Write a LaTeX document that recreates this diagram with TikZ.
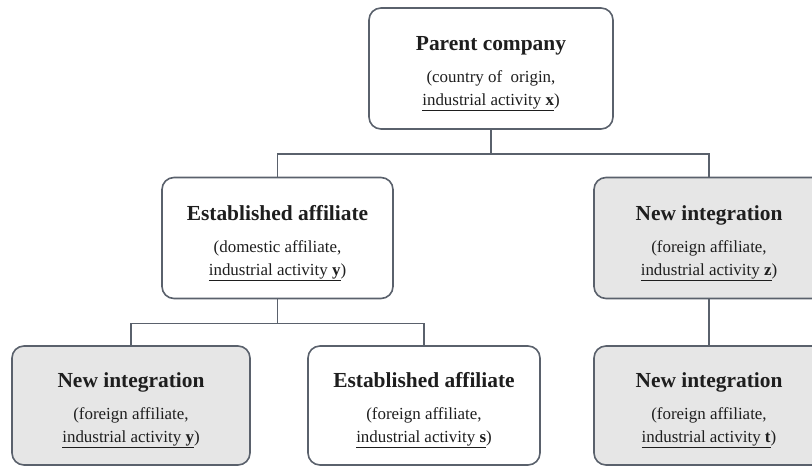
\documentclass[tikz,border=0pt]{standalone}
\usepackage{fontspec}
\setmainfont{Liberation Serif}
\usepackage{xcolor}
\usepackage{tikz}
\usetikzlibrary{arrows, shapes, positioning}

\definecolor{BoxLine}{HTML}{5A616C}
\definecolor{BoxGray}{HTML}{E6E6E6}
\definecolor{InkText}{HTML}{1E1E1E}

\newcommand{\unitname}[2]{%
  {\fontsize{21.5}{22}\selectfont\bfseries\rule{0pt}{25bp}#1}\\[9bp]
  #2}

\begin{document}
\begin{tikzpicture}[x=1bp, y=-1bp,
  established/.style ={draw=BoxLine, line width=1.6bp, rounded corners=12bp,
    fill=white, align=center, text=InkText, font=\fontsize{17}{23}\selectfont,
    minimum width=231bp, minimum height=121bp, inner sep=0pt},
  %
  integration/.style ={established, fill=BoxGray},
  %
  link/.style ={draw=BoxLine, line width=1.6bp} ]

  \useasboundingbox (0,0) rectangle (812,466);
  \clip (0,0) rectangle (812,466);

  \begin{scope}
    %%%%%%%%%%%%%%%%%%%%%%%%%%%%%%%
    \node [established, minimum width=244bp] (parentCo) at (491,68.5)
    {\unitname{Parent company}{(country of\ \ origin,\\
        \underline{industrial activity \textbf{x}})}};
    %%%%%%%%%%%%%%%%%%%%%%%%%%%%%%%
    \node [established] (estDomestic) at (277.5,238)
    {\unitname{Established affiliate}{(domestic affiliate,\\
        \underline{industrial activity \textbf{y}})}};
    \node [integration, minimum width=230bp] (newZ) at (709,238)
    {\unitname{New integration}{(foreign affiliate,\\
        \underline{industrial activity \textbf{z}})}};
    %%%%%%%%%%%%%%%%%%%%%%%%%%%%%%%
    \node [integration, minimum width=238bp, minimum height=119bp] (newY)
    at (131,405.5)
    {\unitname{New integration}{(foreign affiliate,\\
        \underline{industrial activity \textbf{y}})}};
    \node [established, minimum width=232bp, minimum height=119bp] (estS)
    at (424,405.5)
    {\unitname{Established affiliate}{(foreign affiliate,\\
        \underline{industrial activity \textbf{s}})}};
    \node [integration, minimum width=230bp, minimum height=119bp] (newT)
    at (709,405.5)
    {\unitname{New integration}{(foreign affiliate,\\
        \underline{industrial activity \textbf{t}})}};
  \end{scope}

  \begin{scope}
    \draw [link] (parentCo.south) -- ++(0,24) -| (estDomestic.north);
    \draw [link] (parentCo.south) -- ++(0,24) -| (newZ.north);
    \draw [link] (estDomestic.south) -- ++(0,24) -| (newY.north);
    \draw [link] (estDomestic.south) -- ++(0,24) -| (estS.north);
    \draw [link] (newZ.south) -- (newT.north);
  \end{scope}

\end{tikzpicture}
\end{document}
